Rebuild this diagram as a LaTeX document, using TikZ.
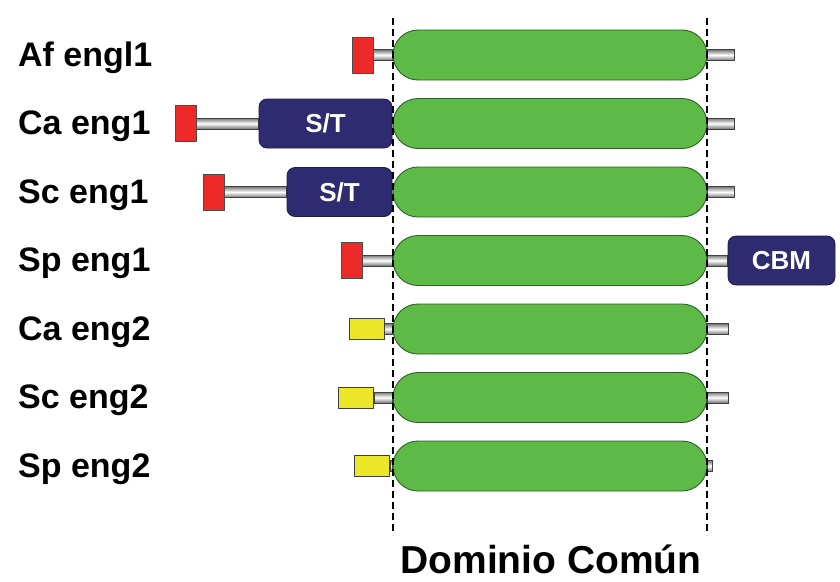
\documentclass[tikz,border=0pt]{standalone}
\usepackage{fontspec}
\setmainfont{Liberation Sans}
\usetikzlibrary{backgrounds}
\definecolor{coregreen}{RGB}{94,186,71}
\definecolor{coreedge}{RGB}{45,95,40}
\definecolor{navy}{RGB}{47,43,112}
\definecolor{navyedge}{RGB}{30,28,70}
\definecolor{sigred}{RGB}{237,41,41}
\definecolor{sigyellow}{RGB}{236,230,40}
\tikzset{
  core/.style={draw=coreedge, line width=0.9pt, fill=coregreen, rounded corners=25pt,
    minimum width=314pt, minimum height=50pt, inner sep=0pt},
  module/.style={draw=navyedge, line width=0.8pt, fill=navy, rounded corners=8pt,
    minimum height=49pt, inner sep=0pt, text=white,
    font=\fontsize{26}{31}\selectfont\bfseries},
  redsig/.style={draw=black!70, line width=0.7pt, fill=sigred,
    minimum width=21pt, minimum height=36pt, inner sep=0pt},
  yelsig/.style={draw=black!75, line width=0.7pt, fill=sigyellow,
    minimum width=35pt, minimum height=21pt, inner sep=0pt},
  tube/.style={draw=black!75, line width=0.7pt, top color=black!55,
    bottom color=black!55, middle color=white},
  guide/.style={line width=1.8pt, dash pattern=on 7pt off 4pt},
  rowlabel/.style={anchor=base west, inner sep=0pt,
    font=\fontsize{34}{40}\selectfont\bfseries},
  title/.style={anchor=base, inner sep=0pt,
    font=\fontsize{39}{46}\selectfont\bfseries}
}
\begin{document}
\begin{tikzpicture}[x=1pt,y=-1pt]
\useasboundingbox (0,0) rectangle (840,581);

% boundaries of the shared domain
\coordinate (dl0) at (393,18);  \coordinate (dl1) at (393,535);
\coordinate (dr0) at (707,18);  \coordinate (dr1) at (707,535);

% row labels
\node[rowlabel] (l1) at (18,66)    {Af engl1};
\node[rowlabel] (l2) at (18,134.5) {Ca eng1};
\node[rowlabel] (l3) at (18,203)   {Sc eng1};
\node[rowlabel] (l4) at (18,271.5) {Sp eng1};
\node[rowlabel] (l5) at (18,340)   {Ca eng2};
\node[rowlabel] (l6) at (18,408.5) {Sc eng2};
\node[rowlabel] (l7) at (18,477)   {Sp eng2};

% common domains
\node[core] (g1) at (550,55)    {};
\node[core] (g2) at (550,123.5) {};
\node[core] (g3) at (550,192)   {};
\node[core] (g4) at (550,260.5) {};
\node[core] (g5) at (550,329)   {};
\node[core] (g6) at (550,397.5) {};
\node[core] (g7) at (550,466)   {};

% signal peptides
\node[redsig] (s1) at (362.5,55)    {};
\node[redsig] (s2) at (185.5,123.5) {};
\node[redsig] (s3) at (213.5,192)   {};
\node[redsig] (s4) at (351.5,260.5) {};
\node[yelsig] (s5) at (366.5,329)   {};
\node[yelsig] (s6) at (356,397.5)   {};
\node[yelsig] (s7) at (372,466)     {};

% extra modules
\node[module, minimum width=133pt] (st2) at (325.5,123.5) {S/T};
\node[module, minimum width=105pt] (st3) at (339.5,192)   {S/T};
\node[module, minimum width=107pt] (cbm) at (781.5,260.5) {CBM};

% C-terminal tails
\coordinate (c1) at (734,55);
\coordinate (c2) at (734,123.5);
\coordinate (c3) at (734,192);
\coordinate (c5) at (728,329);
\coordinate (c6) at (728,397.5);
\coordinate (c7) at (712,466);

\begin{scope}[on background layer]
  % linkers
  \path[tube] ([yshift=5.5pt]s1.east) rectangle ([yshift=-5.5pt]g1.west);
  \path[tube] ([yshift=5.5pt]s2.east) rectangle ([yshift=-5.5pt]st2.west);
  \path[tube] ([yshift=5.5pt]s3.east) rectangle ([yshift=-5.5pt]st3.west);
  \path[tube] ([yshift=5.5pt]s4.east) rectangle ([yshift=-5.5pt]g4.west);
  \path[tube] ([yshift=5.5pt]s5.east) rectangle ([yshift=-5.5pt]g5.west);
  \path[tube] ([yshift=5.5pt]s6.east) rectangle ([yshift=-5.5pt]g6.west);
  \path[tube] ([yshift=5.5pt]s7.east) rectangle ([yshift=-5.5pt]g7.west);
  \path[tube] ([yshift=5.5pt]g1.east) rectangle ([yshift=-5.5pt]c1);
  \path[tube] ([yshift=5.5pt]g2.east) rectangle ([yshift=-5.5pt]c2);
  \path[tube] ([yshift=5.5pt]g3.east) rectangle ([yshift=-5.5pt]c3);
  \path[tube] ([yshift=5.5pt]g4.east) rectangle ([yshift=-5.5pt]cbm.west);
  \path[tube] ([yshift=5.5pt]g5.east) rectangle ([yshift=-5.5pt]c5);
  \path[tube] ([yshift=5.5pt]g6.east) rectangle ([yshift=-5.5pt]c6);
  \path[tube] ([yshift=5.5pt]g7.east) rectangle ([yshift=-5.5pt]c7);
\end{scope}

\draw[guide] (dl0) -- (dl1);
\draw[guide] (dr0) -- (dr1);

\node[title] (dom) at (551,573) {Dominio Común};
\end{tikzpicture}
\end{document}
